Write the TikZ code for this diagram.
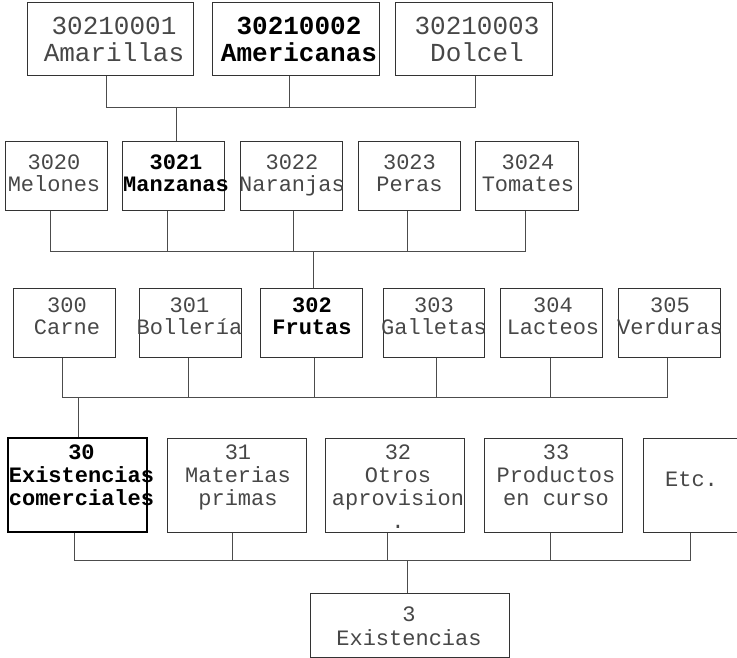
\documentclass[tikz,border=0pt]{standalone}
\usepackage{fontspec}
\setmonofont{Liberation Mono}
\begin{document}
\begin{tikzpicture}[x=1pt,y=-1pt,
  box/.style={draw=black!80, line width=1pt, inner sep=0pt, rectangle},
  boldbox/.style={draw=black, line width=1.4pt, inner sep=0pt, rectangle},
  txtA/.style={anchor=north, inner sep=0pt, align=center, text=black!72, font=\ttfamily\fontsize{26}{27}\selectfont},
  txtB/.style={anchor=north, inner sep=0pt, align=center, text=black!72, font=\ttfamily\fontsize{22}{22}\selectfont},
  txtC/.style={anchor=north, inner sep=0pt, align=center, text=black!72, font=\ttfamily\fontsize{22}{23}\selectfont},
  bfA/.style={text=black, font=\ttfamily\bfseries\fontsize{26}{27}\selectfont},
  bfB/.style={text=black, font=\ttfamily\bfseries\fontsize{22}{22}\selectfont},
  bfC/.style={text=black, font=\ttfamily\bfseries\fontsize{22}{23}\selectfont},
  wire/.style={draw=black!70, line width=1pt}
]
\useasboundingbox (0,0) rectangle (737,658);

% ---------- Row 1 ----------
\node[box, minimum width=166, minimum height=73] (a1) at (110,39.5) {};
\node[box, minimum width=167, minimum height=73] (a2) at (295.5,39.5) {};
\node[box, minimum width=157, minimum height=73] (a3) at (473.5,39.5) {};
\node[txtA] (ta1) at (114,17) {30210001\\Amarillas};
\node[txtA, bfA] (ta2) at (299,17) {30210002\\Americanas};
\node[txtA] (ta3) at (477,17) {30210003\\Dolcel};

% ---------- Row 2 ----------
\node[box, minimum width=102, minimum height=69] (b0) at (56,176.5) {};
\node[box, minimum width=102, minimum height=69] (b1) at (173,176.5) {};
\node[box, minimum width=102, minimum height=69] (b2) at (291,176.5) {};
\node[box, minimum width=102, minimum height=69] (b3) at (409,176.5) {};
\node[box, minimum width=103, minimum height=69] (b4) at (526.5,176.5) {};
\node[txtB] (tb0) at (54,155) {3020\\Melones};
\node[txtB, bfB] (tb1) at (176,155) {3021\\Manzanas};
\node[txtB] (tb2) at (292,155) {3022\\Naranjas};
\node[txtB] (tb3) at (409.5,155) {3023\\Peras};
\node[txtB] (tb4) at (528,155) {3024\\Tomates};

% ---------- Row 3 ----------
\node[box, minimum width=102, minimum height=69] (c0) at (64,322.5) {};
\node[box, minimum width=102, minimum height=69] (c1) at (190,322.5) {};
\node[box, minimum width=102, minimum height=69] (c2) at (311,322.5) {};
\node[box, minimum width=101, minimum height=69] (c3) at (433.5,322.5) {};
\node[box, minimum width=102, minimum height=69] (c4) at (551,322.5) {};
\node[box, minimum width=102, minimum height=69] (c5) at (669,322.5) {};
\node[txtB] (tc0) at (67,298) {300\\Carne};
\node[txtB] (tc1) at (189.5,298) {301\\Bollería};
\node[txtB, bfB] (tc2) at (312,298) {302\\Frutas};
\node[txtB] (tc3) at (434,298) {303\\Galletas};
\node[txtB] (tc4) at (553,298) {304\\Lacteos};
\node[txtB] (tc5) at (670,298) {305\\Verduras};

% ---------- Row 4 ----------
\node[boldbox, minimum width=139, minimum height=94] (d0) at (77.5,485) {};
\node[box, minimum width=139, minimum height=94] (d1) at (236.5,485) {};
\node[box, minimum width=139, minimum height=94] (d2) at (394.5,485) {};
\node[box, minimum width=138, minimum height=94] (d3) at (553,485) {};
\node[box, minimum width=139, minimum height=94] (d4) at (712.5,485) {};
\node[txtC, bfC] (td0) at (81.5,445) {30\\Existencias\\comerciales};
\node[txtC] (td1) at (238,445) {31\\Materias\\primas};
\node[txtC] (td2) at (398,445) {32\\Otros\\aprovision\\.};
\node[txtC] (td3) at (556,445) {33\\Productos\\en curso};
\node[txtC] (td4) at (691.5,471.5) {Etc.};

% ---------- Bottom ----------
\node[box, minimum width=199, minimum height=64] (e0) at (409.5,625) {};
\node[txtC, font=\ttfamily\fontsize{22}{24}\selectfont] (te0) at (409,607) {3\\Existencias};

% ---------- Connectors ----------
% level 1
\coordinate (j1a) at (106,108);
\coordinate (j1b) at (289,108);
\coordinate (j1c) at (475,108);
\coordinate (j1r) at (176,108);
\draw[wire] (a1.south -| j1a) -- (j1a) -- (j1c) -- (a3.south -| j1c);
\draw[wire] (a2.south -| j1b) -- (j1b);
\draw[wire] (j1r) -- (b1.north -| j1r);

% level 2
\coordinate (j2a) at (50,251);
\coordinate (j2b) at (167,251);
\coordinate (j2c) at (293,251);
\coordinate (j2d) at (407,251);
\coordinate (j2e) at (525,251);
\coordinate (j2r) at (313,251);
\draw[wire] (b0.south -| j2a) -- (j2a) -- (j2e) -- (b4.south -| j2e);
\draw[wire] (b1.south -| j2b) -- (j2b);
\draw[wire] (b2.south -| j2c) -- (j2c);
\draw[wire] (b3.south -| j2d) -- (j2d);
\draw[wire] (j2r) -- (c2.north -| j2r);

% level 3
\coordinate (j3a) at (62,397);
\coordinate (j3b) at (188,397);
\coordinate (j3c) at (314,397);
\coordinate (j3d) at (436,397);
\coordinate (j3e) at (550,397);
\coordinate (j3f) at (667,397);
\coordinate (j3r) at (78,397);
\draw[wire] (c0.south -| j3a) -- (j3a) -- (j3f) -- (c5.south -| j3f);
\draw[wire] (c1.south -| j3b) -- (j3b);
\draw[wire] (c2.south -| j3c) -- (j3c);
\draw[wire] (c3.south -| j3d) -- (j3d);
\draw[wire] (c4.south -| j3e) -- (j3e);
\draw[wire] (j3r) -- (d0.north -| j3r);

% level 4
\coordinate (j4a) at (74,560);
\coordinate (j4b) at (232,560);
\coordinate (j4c) at (387,560);
\coordinate (j4d) at (550,560);
\coordinate (j4e) at (690,560);
\coordinate (j4r) at (407,560);
\draw[wire] (d0.south -| j4a) -- (j4a) -- (j4e) -- (d4.south -| j4e);
\draw[wire] (d1.south -| j4b) -- (j4b);
\draw[wire] (d2.south -| j4c) -- (j4c);
\draw[wire] (d3.south -| j4d) -- (j4d);
\draw[wire] (j4r) -- (e0.north -| j4r);
\end{tikzpicture}
\end{document}
